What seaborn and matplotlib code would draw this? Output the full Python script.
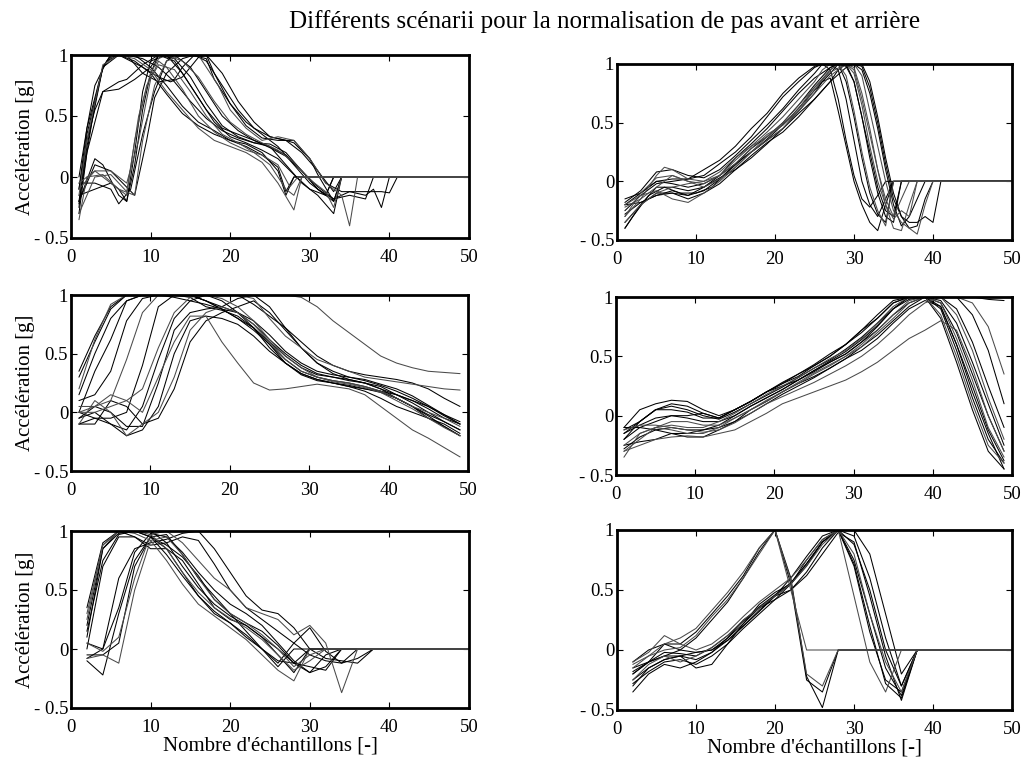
import matplotlib
matplotlib.use("Agg")
import matplotlib.pyplot as plt
import seaborn as sns
import pandas as pd

# ---------------- data ----------------
title = "Différents scénarii pour la normalisation de pas avant et arrière"
ylabel = "Accélération [g]"
xlabel = "Nombre d'échantillons [-]"
xticks = [0, 10, 20, 30, 40, 50]
yticks = [-0.5, 0, 0.5, 1]
yticklabels = ["- 0.5", "0", "0.5", "1"]

# top-left: vertex lists (sample, acceleration)
tl_curves = [
    [(1,-0.25),(2,0.35),(4,0.9),(5,0.98),(6,1),(8,0.95),(10,0.85),(12,0.68),(14,0.52),(16,0.42),(18,0.35),(20,0.3),(22,0.27),(24,0.2),(26,0.05),(27,-0.15),(28,0),(50,0)],
    [(1,-0.15),(2,0.3),(4,0.92),(6,1),(8,0.97),(10,0.88),(12,0.7),(14,0.55),(16,0.4),(18,0.3),(20,0.25),(22,0.2),(24,0.12),(26,-0.05),(28,-0.27),(29,0),(50,0)],
    [(1,0),(2,0.4),(4,0.9),(5,1),(7,1),(9,0.85),(11,0.78),(13,0.8),(14,0.9),(15.5,1),(17,0.95),(19,0.75),(21,0.55),(23,0.4),(25,0.33),(27,0.3),(29,0.2),(31,0.05),(33,-0.12),(34,0),(50,0)],
    [(1,-0.3),(2,0.2),(4,0.7),(6,0.78),(7,0.8),(9,0.92),(11,1),(13,0.95),(15,0.75),(17,0.55),(19,0.4),(21,0.35),(23,0.3),(25,0.25),(27,0.1),(29,-0.05),(31,-0.15),(33,-0.3),(34,0),(50,0)],
    [(1,-0.1),(3,0.05),(5,-0.05),(7,-0.15),(8,0.3),(9.5,0.75),(11,0.92),(13,0.88),(15,0.7),(17,0.5),(19,0.35),(21,0.28),(23,0.2),(25,0.1),(27,-0.1),(28,-0.15),(29,0),(50,0)],
    [(1,-0.2),(3,0.15),(4,0.1),(6,-0.15),(7,-0.2),(8,0.2),(9,0.7),(10,0.95),(12,1),(14,0.85),(16,0.65),(18,0.45),(20,0.33),(22,0.28),(24,0.22),(26,0.15),(28,0.02),(30,-0.1),(32,-0.15),(33,0),(50,0)],
    [(1,-0.05),(3,-0.05),(5,-0.1),(6,-0.22),(7.5,-0.1),(9,0.35),(10.5,0.7),(12,0.95),(13,1),(15,1),(17,0.97),(18,0.8),(20,0.6),(22,0.42),(24,0.32),(26,0.3),(28,0.3),(30,0.15),(32,-0.05),(34,-0.12),(36,-0.12),(39,-0.12),(40,-0.13),(41,0),(50,0)],
    [(1,-0.35),(2,0),(4,0.02),(6,-0.1),(8,-0.15),(9,0.3),(10.5,0.75),(12,0.95),(14,1),(16,1),(17,0.9),(18.5,0.75),(20,0.55),(22,0.4),(24,0.3),(26,0.33),(28,0.3),(30,0.15),(32,-0.05),(34,-0.15),(35,-0.4),(36,0),(50,0)],
    [(1,-0.1),(2,0.3),(3,0.55),(4,0.7),(6,0.72),(8,0.8),(10,0.9),(11,1),(13,0.97),(15,0.82),(17,0.6),(19,0.42),(21,0.33),(23,0.28),(25,0.25),(27,0.18),(29,0.05),(31,-0.08),(33,-0.18),(35,-0.12),(37,-0.15),(38,-0.1),(39,-0.25),(40,0),(50,0)],
    [(1,-0.2),(2,0.25),(4,0.9),(6,1),(7.5,0.95),(9,0.9),(11,0.82),(12.5,0.78),(14,0.82),(16,0.98),(17,1),(18,0.85),(20,0.6),(22,0.45),(24,0.35),(26,0.25),(28,0.1),(30,-0.05),(32,-0.15),(33,-0.2),(34,0),(50,0)],
    [(1,-0.05),(3,0.05),(5,0.05),(7,-0.05),(8.5,0.3),(10,0.8),(11,0.95),(12,0.9),(14,0.72),(16,0.5),(18,0.37),(20,0.28),(22,0.22),(24,0.18),(26,0.1),(27.5,-0.08),(28.5,0),(50,0)],
    [(1,-0.2),(3,0.1),(5,0.05),(6.5,-0.05),(8,-0.15),(9.5,0.3),(10.5,0.65),(12,0.85),(14,0.97),(15.5,1),(17,1),(19,0.85),(21,0.62),(23,0.45),(25,0.33),(27,0.3),(28,0.28),(30,0.15),(31,0.02),(33,-0.2),(34,0),(50,0)],
    [(1,-0.1),(2,0.4),(3,0.75),(4.5,0.95),(6,1),(8,1),(10,0.9),(12,0.75),(14,0.58),(16,0.45),(18,0.38),(20,0.3),(22,0.25),(24,0.18),(26,0.08),(27,-0.12),(28,0),(50,0)],
    [(1,-0.3),(3,0.0),(5,0.02),(6,-0.05),(7,-0.12),(8.5,0.5),(10,0.85),(11,0.97),(12,1),(14,0.95),(16,0.82),(18,0.62),(20,0.45),(22,0.35),(24,0.28),(26,0.22),(28,0.12),(30,-0.02),(32,-0.12),(33,-0.25),(34,0),(50,0)],
    [(1,-0.22),(2,0.2),(3,0.6),(4,0.9),(5,1),(7,1),(9,0.97),(11,0.9),(13,0.78),(15,0.62),(17,0.48),(19,0.38),(21,0.32),(23,0.28),(25,0.27),(27,0.2),(29,0.05),(31,-0.1),(32,-0.15),(33,0),(50,0)],
    [(1,-0.15),(3,-0.1),(5,-0.05),(6,-0.1),(7,-0.2),(8,0.1),(9,0.55),(10,0.85),(11,1),(13,1),(15,0.9),(17,0.7),(19,0.5),(21,0.38),(23,0.3),(25,0.24),(27,0.17),(29,0.05),(31,-0.1),(33,-0.18),(35,-0.15),(37,-0.18),(38,0),(50,0)],
]

# top-right: vertex lists
tr_curves = [
    [(1,-0.4),(3,-0.2),(5,-0.1),(7,-0.1),(9,-0.12),(11,-0.08),(13,0.02),(15,0.15),(17,0.28),(19,0.38),(21,0.5),(23,0.65),(25,0.82),(27,0.97),(28,1),(29,0.98),(30,0.85),(31,0.55),(32,0.2),(33,-0.1),(34,-0.3),(35,-0.35),(36,0),(50,0)],
    [(1,-0.3),(3,-0.15),(5,0.05),(6,0.12),(7,0.1),(9,0.02),(11,0),(13,0.08),(15,0.2),(17,0.3),(19,0.42),(21,0.55),(23,0.7),(25,0.85),(26,0.95),(27,1),(28,1),(29,0.9),(30,0.6),(31,0.25),(32,-0.05),(33,-0.25),(34,-0.38),(35,0),(50,0)],
    [(1,-0.2),(3,-0.1),(5,0),(7,0.02),(9,0.02),(11,0.05),(13,0.15),(15,0.25),(17,0.38),(19,0.55),(21,0.72),(23,0.85),(25,0.97),(26,1),(27,0.95),(28,0.7),(29,0.35),(30,0.05),(31,-0.15),(32,-0.22),(33,-0.12),(34,0),(50,0)],
    [(1,-0.35),(3,-0.2),(5,-0.05),(7,-0.05),(9,-0.08),(11,-0.05),(13,0.05),(15,0.15),(17,0.25),(19,0.35),(21,0.45),(23,0.6),(25,0.75),(26,0.85),(27,0.88),(28,0.6),(29,0.3),(30,0),(31,-0.2),(32,-0.35),(33,-0.42),(34,-0.2),(35,0),(50,0)],
    [(1,-0.2),(3,-0.12),(5,-0.08),(7,-0.15),(9,-0.18),(11,-0.1),(13,0),(15,0.12),(17,0.25),(19,0.35),(21,0.45),(23,0.6),(25,0.75),(27,0.9),(29,1),(30,1),(31,0.9),(32,0.6),(33,0.3),(34,0),(35,-0.25),(36,-0.35),(37,-0.4),(38,-0.45),(39,-0.2),(40,0),(50,0)],
    [(1,-0.15),(3,-0.1),(5,0),(7,-0.02),(9,-0.05),(11,-0.02),(13,0.05),(15,0.2),(17,0.32),(19,0.45),(21,0.6),(23,0.75),(25,0.88),(27,0.97),(28,1),(30,1),(31,0.98),(32,0.8),(33,0.5),(34,0.15),(35,-0.15),(36,-0.3),(37,-0.35),(38,-0.35),(39,-0.3),(40,-0.35),(41,0),(50,0)],
    [(1,-0.4),(2,-0.3),(4,-0.12),(6,-0.05),(8,-0.1),(10,-0.1),(12,-0.05),(14,0.08),(16,0.2),(18,0.3),(20,0.42),(22,0.55),(24,0.7),(26,0.85),(27,0.92),(28,1),(29,1),(30,0.85),(31,0.55),(32,0.25),(33,-0.05),(34,-0.25),(35,-0.3),(36,0),(50,0)],
    [(1,-0.3),(3,-0.1),(5,0.03),(7,0.05),(9,0),(11,-0.02),(13,0.05),(15,0.15),(17,0.28),(19,0.4),(21,0.48),(23,0.6),(25,0.78),(27,0.95),(28,1),(29,1),(30,0.95),(31,0.7),(32,0.4),(33,0.1),(34,-0.15),(35,-0.3),(36,-0.15),(37,0),(50,0)],
    [(1,-0.25),(3,-0.12),(5,-0.02),(7,0),(9,0.02),(11,0.1),(13,0.18),(15,0.3),(17,0.45),(19,0.58),(21,0.75),(23,0.88),(25,0.98),(26,1),(27,1),(28,0.95),(29,0.7),(30,0.35),(31,0),(32,-0.2),(33,-0.3),(34,-0.15),(35,0),(50,0)],
    [(1,-0.2),(3,-0.18),(5,-0.12),(7,-0.08),(9,-0.12),(11,-0.05),(13,0.03),(15,0.1),(17,0.2),(19,0.32),(21,0.45),(23,0.58),(25,0.7),(27,0.85),(28,0.95),(29,1),(31,1),(32,0.85),(33,0.55),(34,0.2),(35,-0.1),(36,-0.3),(37,-0.4),(38,-0.38),(39,-0.15),(40,0),(50,0)],
    [(1,-0.35),(3,-0.2),(5,-0.1),(7,-0.05),(9,-0.02),(11,0),(13,0.05),(15,0.18),(17,0.3),(19,0.38),(21,0.48),(23,0.62),(25,0.8),(27,0.93),(29,1),(30,0.97),(31,0.75),(32,0.45),(33,0.1),(34,-0.2),(35,-0.4),(36,-0.42),(37,-0.2),(38,0),(50,0)],
    [(1,-0.18),(3,-0.08),(5,0.08),(7,0.1),(9,0.05),(11,0.03),(13,0.1),(15,0.22),(17,0.35),(19,0.48),(21,0.62),(23,0.78),(25,0.92),(26,1),(28,1),(29,0.85),(30,0.55),(31,0.2),(32,-0.1),(33,-0.28),(34,-0.35),(35,0),(50,0)],
    [(1,-0.28),(3,-0.18),(5,-0.12),(7,-0.1),(9,-0.15),(11,-0.1),(13,-0.02),(15,0.1),(17,0.22),(19,0.33),(21,0.42),(23,0.55),(25,0.7),(27,0.85),(29,0.97),(30,1),(31,0.95),(32,0.75),(33,0.45),(34,0.1),(35,-0.2),(36,-0.38),(37,-0.3),(38,-0.15),(39,0),(50,0)],
    [(1,-0.22),(3,-0.15),(5,-0.05),(7,0.05),(9,0.0),(11,-0.05),(13,0.02),(15,0.12),(17,0.25),(19,0.38),(21,0.5),(23,0.65),(25,0.8),(27,0.95),(28,1),(29,1),(30,0.92),(31,0.65),(32,0.3),(33,0),(34,-0.2),(35,-0.32),(36,-0.25),(37,-0.3),(38,0),(50,0)],
]

# middle row: values at samples 1, 3, 5, ..., 49
mid_samples = [1,3,5,7,9,11,13,15,17,19,21,23,25,27,29,31,33,35,37,39,41,43,45,47,49]
ml_curves = [
    [0.3,0.6,0.88,1.0,1.0,1.0,1.0,1.0,0.95,0.9,0.85,0.75,0.62,0.5,0.4,0.33,0.3,0.27,0.25,0.2,0.15,0.1,0.05,-0.03,-0.1],
    [0.2,0.62,0.92,1.0,1.0,1.0,1.0,1.0,1.0,1.0,1.0,0.97,0.8,0.65,0.55,0.45,0.4,0.35,0.3,0.28,0.26,0.24,0.22,0.2,0.19],
    [0.0,0.35,0.62,0.95,1.0,1.0,1.0,1.0,0.95,0.88,0.8,0.7,0.58,0.45,0.35,0.3,0.27,0.25,0.22,0.18,0.12,0.05,-0.02,-0.08,-0.15],
    [0.1,0.15,0.35,0.78,0.97,1.0,1.0,0.98,0.9,0.87,0.82,0.72,0.58,0.42,0.33,0.28,0.25,0.23,0.2,0.17,0.12,0.05,-0.03,-0.12,-0.2],
    [0.05,0.05,0.1,0.45,0.85,1.0,1.0,1.0,1.0,1.0,1.0,1.0,1.0,1.0,0.98,0.9,0.78,0.68,0.58,0.48,0.42,0.38,0.35,0.34,0.33],
    [-0.1,-0.05,-0.05,0.0,0.4,0.9,1.0,1.0,0.95,0.88,0.8,0.72,0.6,0.48,0.38,0.32,0.3,0.28,0.25,0.22,0.15,0.08,0.0,-0.08,-0.15],
    [-0.05,0.0,-0.1,-0.15,0.05,0.45,0.8,0.95,1.0,0.95,0.85,0.72,0.55,0.42,0.32,0.27,0.25,0.22,0.2,0.18,0.15,0.1,0.03,-0.05,-0.1],
    [-0.1,0.1,0.0,-0.2,-0.1,0.0,0.3,0.7,0.85,0.9,0.85,0.75,0.6,0.45,0.35,0.3,0.27,0.25,0.22,0.18,0.12,0.05,0.0,-0.05,-0.12],
    [0.0,-0.05,-0.1,-0.2,-0.15,0.05,0.5,0.78,0.82,0.8,0.75,0.65,0.52,0.42,0.33,0.28,0.25,0.22,0.18,0.12,0.05,0.0,-0.05,-0.12,-0.2],
    [-0.1,-0.1,0.1,0.05,-0.1,-0.05,0.2,0.6,0.78,0.85,0.9,0.95,0.85,0.7,0.55,0.42,0.33,0.28,0.25,0.2,0.12,0.05,-0.05,-0.1,-0.18],
    [0.0,0.05,0.15,0.1,0.0,0.3,0.6,0.82,0.82,0.6,0.42,0.25,0.19,0.2,0.22,0.24,0.22,0.2,0.15,0.05,-0.05,-0.15,-0.22,-0.3,-0.38],
    [0.15,0.5,0.8,0.95,1.0,1.0,1.0,1.0,1.0,1.0,1.0,0.92,0.82,0.72,0.6,0.48,0.4,0.35,0.32,0.3,0.28,0.25,0.2,0.12,0.05],
    [0.35,0.65,0.9,1.0,1.0,1.0,0.98,0.95,0.92,0.88,0.85,0.78,0.66,0.52,0.42,0.35,0.32,0.3,0.27,0.23,0.18,0.12,0.05,-0.02,-0.08],
    [0.0,0.0,0.05,0.1,0.2,0.55,0.85,0.98,1.0,0.97,0.9,0.78,0.62,0.48,0.38,0.3,0.26,0.24,0.21,0.17,0.1,0.03,-0.05,-0.13,-0.2],
    [-0.05,0.05,0.0,-0.12,-0.12,0.25,0.7,0.85,0.88,0.9,0.97,1.0,0.9,0.72,0.55,0.42,0.35,0.3,0.28,0.24,0.2,0.14,0.06,-0.02,-0.1],
]
mr_curves = [
    [-0.12,-0.05,0.05,0.1,0.08,0.02,-0.02,0.05,0.12,0.2,0.25,0.3,0.38,0.45,0.52,0.62,0.75,0.9,1.0,1.0,0.95,0.7,0.35,0.0,-0.3],
    [-0.3,-0.2,-0.1,-0.08,-0.1,-0.1,-0.05,0.02,0.1,0.18,0.25,0.32,0.4,0.48,0.55,0.65,0.78,0.92,1.0,1.0,1.0,0.85,0.55,0.15,-0.2],
    [-0.25,-0.22,-0.2,-0.15,-0.15,-0.12,-0.1,-0.05,0.05,0.12,0.2,0.27,0.33,0.4,0.48,0.58,0.68,0.8,0.92,1.0,0.9,0.55,0.15,-0.2,-0.4],
    [-0.15,-0.08,-0.02,0.0,0.0,0.02,-0.02,0.05,0.12,0.2,0.27,0.35,0.42,0.5,0.6,0.72,0.82,0.95,1.0,1.0,0.82,0.45,0.05,-0.3,-0.45],
    [-0.3,-0.25,-0.2,-0.18,-0.17,-0.18,-0.15,-0.12,-0.05,0.02,0.1,0.15,0.2,0.25,0.3,0.37,0.45,0.55,0.65,0.72,0.8,0.72,0.4,0.0,-0.3],
    [-0.1,0.05,0.1,0.13,0.12,0.05,0.0,0.05,0.12,0.2,0.27,0.33,0.42,0.5,0.6,0.72,0.85,0.97,1.0,1.0,1.0,1.0,0.85,0.55,0.1],
    [-0.2,-0.1,-0.05,0.0,-0.02,-0.05,-0.05,0.0,0.08,0.15,0.22,0.3,0.37,0.45,0.52,0.62,0.72,0.85,0.95,1.0,1.0,1.0,1.0,0.98,0.97],
    [-0.35,-0.15,-0.1,-0.05,-0.05,-0.08,-0.08,-0.02,0.05,0.13,0.2,0.28,0.36,0.43,0.5,0.6,0.72,0.85,0.97,1.0,0.95,0.65,0.3,-0.1,-0.35],
    [-0.1,-0.1,-0.12,-0.15,-0.18,-0.18,-0.12,-0.05,0.02,0.1,0.18,0.25,0.32,0.4,0.48,0.55,0.65,0.78,0.9,0.97,0.92,0.6,0.2,-0.15,-0.45],
    [-0.2,-0.05,0.05,0.05,0.03,-0.02,-0.02,0.05,0.12,0.2,0.28,0.35,0.43,0.52,0.6,0.7,0.82,0.95,1.0,1.0,1.0,0.9,0.62,0.25,-0.1],
    [-0.25,-0.15,-0.1,-0.12,-0.15,-0.15,-0.1,-0.02,0.05,0.12,0.2,0.27,0.35,0.42,0.5,0.58,0.7,0.82,0.95,1.0,0.85,0.5,0.1,-0.25,-0.4],
    [-0.15,-0.05,0.05,0.08,0.05,0.0,-0.03,0.03,0.1,0.17,0.24,0.32,0.4,0.47,0.56,0.66,0.78,0.9,1.0,1.0,0.97,0.78,0.45,0.1,-0.25],
    [-0.28,-0.18,-0.12,-0.1,-0.12,-0.12,-0.08,0.0,0.08,0.15,0.22,0.3,0.38,0.46,0.54,0.64,0.76,0.9,0.98,1.0,0.92,0.6,0.25,-0.12,-0.38],
    [-0.12,-0.08,-0.08,-0.1,-0.12,-0.14,-0.12,-0.06,0.02,0.1,0.16,0.22,0.28,0.35,0.42,0.5,0.6,0.72,0.85,0.95,1.0,1.0,0.95,0.75,0.35],
]

# bottom row: values at samples 2, 4, 6, ... until the curve ends (then zero padding to 50)
bot_first_sample = 2
bot_sample_step = 2
bl_curves = [
    [0.35,0.9,1.0,1.0,0.95,0.8,0.62,0.45,0.32,0.22,0.12,0.0,-0.15,0.0],
    [0.3,0.88,1.0,0.98,0.92,0.75,0.55,0.38,0.28,0.18,0.08,-0.05,-0.18,-0.27,0.0],
    [0.1,0.85,0.98,1.0,1.0,0.9,0.7,0.52,0.38,0.28,0.2,0.1,0.0,-0.12,-0.15,-0.18,0.0],
    [0.0,0.7,0.95,0.95,0.85,0.85,0.75,0.55,0.35,0.25,0.2,0.1,-0.05,-0.2,0.0],
    [-0.08,-0.05,-0.12,0.5,0.92,0.95,0.8,0.6,0.42,0.3,0.22,0.12,0.0,-0.15,-0.05,0.0],
    [-0.1,-0.22,0.3,0.75,0.95,0.85,0.65,0.45,0.3,0.22,0.1,0.0,-0.1,-0.12,0.0],
    [0.05,0.0,0.6,0.85,0.9,0.93,0.98,1.0,0.85,0.65,0.45,0.33,0.3,0.18,0.0,-0.08,-0.1,-0.12,0.0],
    [0.05,-0.02,0.1,0.6,0.97,1.0,0.9,0.75,0.6,0.5,0.35,0.3,0.25,0.12,0.2,0.05,-0.37,0.0],
    [-0.05,-0.05,0.05,0.7,0.95,0.97,0.8,0.6,0.45,0.3,0.15,0.0,-0.12,0.05,0.18,-0.02,-0.12,0.0],
    [0.2,0.85,1.0,0.95,0.88,0.9,0.95,0.92,0.72,0.5,0.35,0.25,0.15,0.05,-0.05,-0.1,-0.12,-0.08,0.0],
    [0.25,0.88,1.0,1.0,0.97,0.85,0.65,0.48,0.35,0.26,0.18,0.08,-0.05,-0.18,-0.1,0.0],
    [-0.08,0.0,0.35,0.82,0.98,0.95,0.82,0.65,0.5,0.38,0.3,0.2,0.05,-0.1,-0.2,-0.05,0.0],
    [0.15,0.75,0.97,1.0,0.95,0.88,0.78,0.62,0.42,0.3,0.22,0.15,0.03,-0.12,-0.2,-0.15,0.0],
]
br_curves = [
    [-0.1,0.0,0.05,0.05,0.15,0.3,0.45,0.62,0.85,1.0,0.55,-0.25,-0.35,0.0],
    [-0.15,-0.05,0.0,0.02,0.12,0.28,0.42,0.6,0.8,1.0,0.5,0.0],
    [-0.2,-0.1,-0.05,0.0,0.1,0.25,0.4,0.6,0.82,1.0,0.6,-0.22,-0.48,0.0],
    [-0.3,-0.15,-0.08,-0.05,-0.02,0.0,0.08,0.2,0.32,0.45,0.6,0.78,0.95,1.0,0.72,0.2,-0.28,-0.4,0.0],
    [-0.25,-0.12,-0.05,-0.1,-0.05,0.02,0.12,0.25,0.35,0.45,0.55,0.7,0.88,1.0,0.8,0.3,-0.1,-0.35,0.0],
    [-0.15,-0.1,0.05,0.0,-0.02,0.0,0.1,0.22,0.35,0.45,0.5,0.65,0.85,1.0,1.0,0.8,0.3,-0.2,0.0],
    [-0.35,-0.2,-0.12,-0.15,-0.1,-0.02,0.1,0.25,0.35,0.42,0.5,0.62,0.8,0.98,0.9,0.45,-0.05,-0.42,0.0],
    [-0.1,-0.02,0.12,0.05,0.0,0.05,0.15,0.28,0.4,0.5,0.6,0.75,0.92,1.0,0.45,-0.1,-0.35,0.0],
    [-0.2,-0.1,-0.05,-0.05,-0.15,-0.12,0.05,0.22,0.38,0.48,0.55,0.7,0.9,1.0,0.95,0.6,0.1,-0.3,0.0],
    [-0.28,-0.18,-0.1,-0.08,-0.12,-0.05,0.05,0.18,0.3,0.42,0.55,0.75,0.92,1.0,0.75,0.3,-0.15,-0.38,0.0],
    [-0.12,-0.05,0.05,0.1,0.18,0.33,0.48,0.65,0.85,1.0,0.58,-0.2,-0.3,0.0],
    [-0.18,-0.1,-0.02,-0.03,-0.05,0.02,0.12,0.24,0.36,0.46,0.56,0.72,0.9,1.0,0.88,0.5,0.0,-0.3,0.0],
    [-0.25,-0.15,-0.08,-0.05,-0.08,-0.02,0.08,0.2,0.33,0.45,0.55,0.72,0.9,1.0,0.7,0.15,-0.25,-0.35,0.0],
]

# ---------------- build long-form tables ----------------
def from_vertices(curves, panel):
    rows = []
    for i, c in enumerate(curves):
        for x, y in c:
            rows.append((panel, i, x, y, i % 3 == 1))
    return rows

def from_grid(curves, samples, panel):
    rows = []
    for i, c in enumerate(curves):
        for x, y in zip(samples, c):
            rows.append((panel, i, x, y, i % 3 == 1))
    return rows

def from_padded(curves, first, step, panel):
    rows = []
    for i, c in enumerate(curves):
        for k, y in enumerate(c):
            rows.append((panel, i, first + k * step, y, i % 3 == 1))
        rows.append((panel, i, 50, 0.0, i % 3 == 1))
    return rows

rows = (from_vertices(tl_curves, "tl") + from_vertices(tr_curves, "tr")
        + from_grid(ml_curves, mid_samples, "ml") + from_grid(mr_curves, mid_samples, "mr")
        + from_padded(bl_curves, bot_first_sample, bot_sample_step, "bl")
        + from_padded(br_curves, bot_first_sample, bot_sample_step, "br"))
df = pd.DataFrame(rows, columns=["panel", "curve", "x", "y", "gray"])

# ---------------- figure ----------------
sns.set_style("white")
plt.rcParams["font.family"] = ["Liberation Serif", "DejaVu Serif"]
plt.rcParams["text.color"] = "black"
plt.rcParams["axes.labelcolor"] = "black"
plt.rcParams["xtick.color"] = "black"
plt.rcParams["ytick.color"] = "black"

W, H = 1029, 764
fig = plt.figure(figsize=(W / 100, H / 100), dpi=100)

# pixel boxes: left, top, right, bottom
boxes = {
    "tl": (71, 55, 469, 238),
    "tr": (617, 64, 1012, 240),
    "ml": (71, 295, 468, 471),
    "mr": (616, 297, 1012, 475),
    "bl": (71, 531, 469, 708),
    "br": (617, 530, 1012, 710),
}

for panel, (l, t, r, b) in boxes.items():
    ax = fig.add_axes([l / W, 1 - b / H, (r - l) / W, (b - t) / H])
    sub = df[df.panel == panel]
    for gray, color in ((False, "black"), (True, "#4a4a4a")):
        part = sub[sub.gray == gray]
        sns.lineplot(data=part, x="x", y="y", units="curve", estimator=None,
                     color=color, lw=0.75, sort=False, ax=ax, legend=False)
    ax.set_xlim(0, 50)
    ax.set_ylim(-0.5, 1)
    ax.set_xticks(xticks)
    ax.set_xticklabels([str(v) for v in xticks], fontsize=13.5)
    ax.set_yticks(yticks)
    ax.set_yticklabels(yticklabels, fontsize=13.5)
    ax.tick_params(axis="x", direction="in", length=4, width=0.8, top=True,
                   bottom=True, pad=8, colors="black")
    ax.tick_params(axis="y", direction="in", length=4, width=0.8, left=True,
                   right=True, pad=2, colors="black")
    for s in ax.spines.values():
        s.set_linewidth(2.0)
        s.set_color("black")
    ax.set_xlabel("")
    ax.set_ylabel("")
    if panel in ("tl", "ml", "bl"):
        ax.set_ylabel(ylabel, fontsize=15, labelpad=-1, color="black")
    if panel in ("bl", "br"):
        ax.set_xlabel(xlabel, fontsize=15, labelpad=0, color="black")

fig.text(605 / W, 1 - 22 / H, title, ha="center", va="center", fontsize=18, color="black")

fig.savefig("out.png", dpi=100, facecolor="white")
